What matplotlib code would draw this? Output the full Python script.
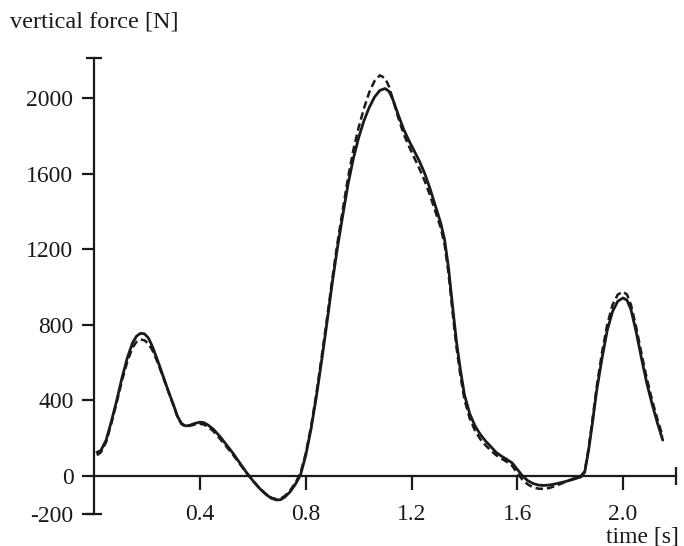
import matplotlib
matplotlib.use("Agg")
import matplotlib.pyplot as plt

plt.rcParams['font.family'] = ['Liberation Serif', 'DejaVu Serif']

# time [s]
time_s = [0.010, 0.025, 0.045, 0.065, 0.085, 0.105, 0.125, 0.145, 0.160, 0.175,
          0.190, 0.205, 0.220, 0.240, 0.260, 0.280, 0.300, 0.315, 0.330, 0.345,
          0.360, 0.380, 0.400, 0.415, 0.430, 0.450, 0.475, 0.500, 0.525, 0.550,
          0.575, 0.600, 0.625, 0.650, 0.670, 0.690, 0.705, 0.720, 0.740, 0.760,
          0.780, 0.800, 0.820, 0.840, 0.860, 0.880, 0.900, 0.920, 0.940, 0.960,
          0.980, 1.000, 1.020, 1.040, 1.060, 1.080, 1.100, 1.115, 1.130, 1.150,
          1.170, 1.190, 1.210, 1.230, 1.250, 1.270, 1.290, 1.310, 1.325, 1.340,
          1.355, 1.370, 1.385, 1.400, 1.420, 1.440, 1.460, 1.480, 1.500, 1.520,
          1.540, 1.560, 1.580, 1.600, 1.620, 1.640, 1.660, 1.680, 1.700, 1.720,
          1.750, 1.780, 1.810, 1.840, 1.855, 1.870, 1.885, 1.900, 1.920, 1.940,
          1.960, 1.980, 2.000, 2.015, 2.030, 2.050, 2.070, 2.090, 2.110, 2.130,
          2.150]

# vertical force [N], solid curve
force_solid = [125, 135, 190, 290, 400, 520, 625, 705, 740, 755,
               752, 730, 685, 610, 530, 450, 375, 315, 278, 265,
               268, 278, 285, 282, 270, 248, 210, 165, 120, 70,
               20, -25, -65, -98, -118, -127, -125, -112, -85, -45,
               5, 110, 250, 420, 610, 810, 1020, 1210, 1380, 1545,
               1680, 1790, 1880, 1950, 2005, 2040, 2050, 2035, 1990, 1910,
               1835, 1775, 1720, 1665, 1600, 1520, 1430, 1340, 1250, 1100,
               900, 710, 560, 430, 330, 265, 220, 185, 155, 125,
               105, 88, 70, 35, 0, -25, -40, -48, -50, -48,
               -40, -30, -18, -5, 20, 140, 290, 450, 620, 770,
               870, 925, 942, 930, 880, 760, 620, 490, 380, 280,
               190]

# vertical force [N], dashed curve
force_dashed = [110, 125, 180, 280, 390, 505, 605, 680, 710, 722,
                718, 700, 665, 600, 525, 448, 372, 312, 275, 262,
                265, 272, 276, 272, 260, 238, 198, 155, 112, 65,
                18, -25, -65, -96, -115, -123, -120, -106, -78, -38,
                15, 120, 262, 435, 630, 830, 1040, 1235, 1410, 1580,
                1725, 1845, 1945, 2030, 2090, 2120, 2105, 2060, 1990, 1895,
                1810, 1745, 1685, 1625, 1560, 1485, 1400, 1315, 1225, 1070,
                870, 680, 530, 405, 305, 240, 195, 162, 135, 110,
                92, 75, 55, 15, -20, -45, -60, -67, -68, -64,
                -50, -32, -15, 0, 25, 150, 305, 470, 650, 800,
                905, 960, 975, 960, 905, 785, 645, 515, 400, 300,
                210]

x_ticks = [0.4, 0.8, 1.2, 1.6, 2.0]
x_tick_labels = ['0.4', '0.8', '1.2', '1.6', '2.0']
y_ticks = [-200, 0, 400, 800, 1200, 1600, 2000]
y_tick_labels = ['-200', '0', '400', '800', '1200', '1600', '2000']

W, H = 684, 546
fig = plt.figure(figsize=(W / 100, H / 100), dpi=100)
ax = fig.add_axes([94.25 / W, (H - 513.8) / H, 581.7 / W, (513.8 - 58.3) / H])

ink = '#1a1a1a'
ax.plot(time_s, force_solid, color=ink, lw=2.0, solid_joinstyle='round',
        solid_capstyle='round')
ax.plot(time_s, force_dashed, color=ink, lw=1.8, linestyle=(0, (3, 1.6)))

ax.set_xlim(0, 2.2)
ax.set_ylim(-200, 2210)

for s in ['top', 'right']:
    ax.spines[s].set_visible(False)
ax.spines['bottom'].set_position(('data', 0))
ax.spines['bottom'].set_linewidth(1.6)
ax.spines['left'].set_linewidth(1.6)
ax.spines['bottom'].set_color(ink)
ax.spines['left'].set_color(ink)

ax.set_xticks(x_ticks)
ax.set_xticklabels(x_tick_labels)
ax.set_yticks(y_ticks)
ax.set_yticklabels(y_tick_labels)
ax.tick_params(axis='x', direction='out', length=10, width=1.6, pad=10,
               labelsize=17, colors=ink)
ax.tick_params(axis='y', direction='out', length=9, width=1.6, pad=6,
               labelsize=17, colors=ink)

# axis end caps
ax.plot([2.2], [0], marker='|', markersize=13, mew=1.6, color=ink, clip_on=False)
ax.plot([0], [2210], marker='_', markersize=12, mew=1.6, color=ink, clip_on=False)
ax.plot([0], [-200], marker='_', markersize=12, mew=1.6, color=ink, clip_on=False)

fig.text(10 / W, 1 - 22 / H, 'vertical force [N]', fontsize=17.5, color=ink,
         ha='left', va='center')
fig.text(642 / W, 1 - 537 / H, 'time [s]', fontsize=17, color=ink,
         ha='center', va='center')

fig.savefig('out.png', dpi=100)
